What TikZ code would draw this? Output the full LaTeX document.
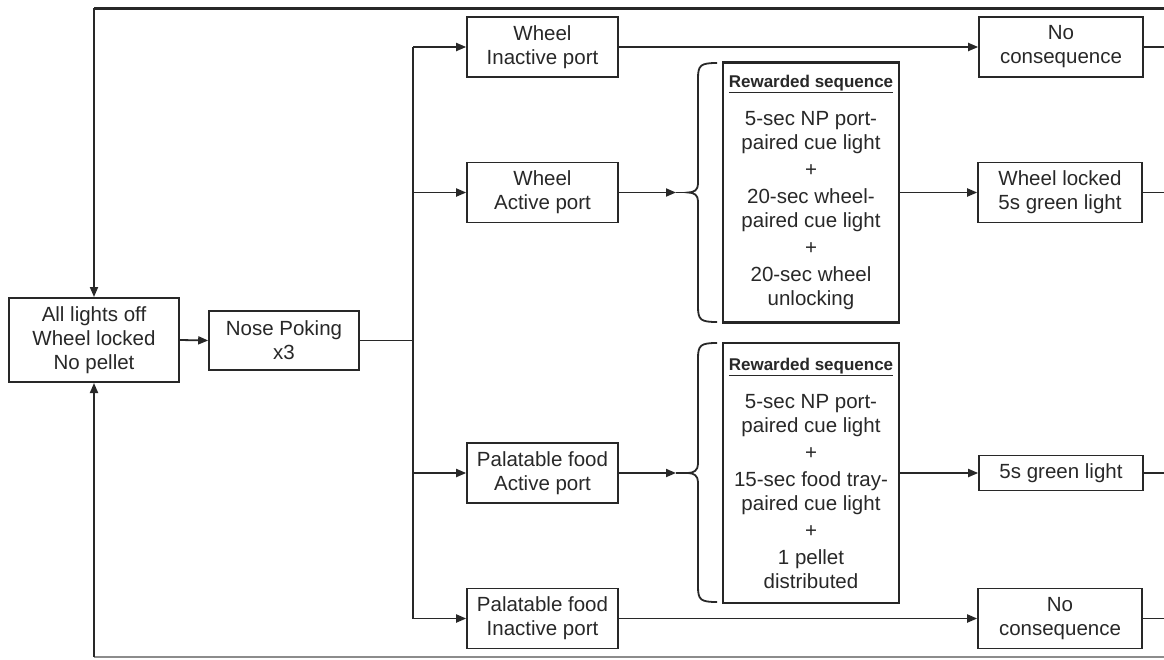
\documentclass[tikz,border=0pt]{standalone}
\usepackage{fontspec}
\setmainfont{Liberation Sans}
\usetikzlibrary{arrows.meta}
\definecolor{ink}{RGB}{40,40,40}
\begin{document}
\begin{tikzpicture}[x=1pt,y=-1pt,
  box/.style={draw=ink, line width=1.6pt, fill=white, text=ink, align=center,
    font=\fontsize{20.5}{24}\selectfont, inner sep=0pt},
  pbox/.style={box, minimum width=151pt, minimum height=60pt},
  rbox/.style={box, minimum width=164pt, minimum height=60pt},
  sbox/.style={box, line width=2.5pt, draw=black!85, minimum width=176pt, minimum height=260pt},
  conn/.style={draw=ink, line width=1.8pt},
  arr/.style={conn, -{Triangle[length=10pt,width=8pt]}}]
\useasboundingbox (0,0) rectangle (1164,659);

% nodes
\node[box, line width=2pt, minimum width=170pt, minimum height=84pt] (start) at (94,340) {All lights off\\Wheel locked\\No pellet};
\node[box, minimum width=150pt, minimum height=59pt] (nose) at (284,340.5) {Nose Poking\\x3};
\node[pbox] (wi) at (542.5,47) {Wheel\\Inactive port};
\node[pbox] (wa) at (542.5,192.5) {Wheel\\Active port};
\node[pbox] (pa) at (542.5,473) {Palatable food\\Active port};
\node[pbox] (pi) at (542.5,618.5) {Palatable food\\Inactive port};
\node[rbox] (nc1) at (1061,47) {No\\consequence};
\node[rbox] (wl) at (1060,192.5) {Wheel locked\\5s green light};
\node[rbox, minimum height=35pt] (gl) at (1061,473) {5s green light};
\node[rbox] (nc2) at (1060,618.5) {No\\consequence};
\node[sbox] (rs1) at (811,192.5) {{\fontsize{17}{20}\selectfont\bfseries\underline{Rewarded sequence}}\\[14pt]
5-sec NP port-\\paired cue light\\[3pt]+\\[3pt]20-sec wheel-\\paired cue light\\[3pt]+\\[3pt]20-sec wheel\\unlocking};
\node[sbox] (rs2) at (811,473) {{\fontsize{17}{20}\selectfont\bfseries\underline{Rewarded sequence}}\\[14pt]
5-sec NP port-\\paired cue light\\[3pt]+\\[3pt]15-sec food tray-\\paired cue light\\[3pt]+\\[3pt]1 pellet\\distributed};

% helper coordinates
\coordinate (br) at (413,340.5);
\coordinate (tl) at (94,8);
\coordinate (tr) at (1164,8);
\coordinate (bl) at (94,657);
\coordinate (bre) at (1164,657);
\coordinate (a1) at (676,192.5);
\coordinate (b1) at (688,192.5);
\coordinate (a2) at (676,473);
\coordinate (b2) at (688,473);

% loop lines
\draw[conn, line width=3pt] (tr) -- (tl);
\draw[arr] (tl) -- (start.north);
\draw[conn, draw=black!45, line width=1.4pt] (bre) -- (bl);
\draw[arr] (bl) -- (start.south);

% main flow
\draw[arr] (start.east) -- (nose.west);
\draw[conn] (nose.east) -- (br);
\draw[conn] (br |- wi.west) -- (br |- pi.west);
\draw[arr] (br |- wi.west) -- (wi.west);
\draw[arr] (br |- wa.west) -- (wa.west);
\draw[arr] (br |- pa.west) -- (pa.west);
\draw[arr] (br |- pi.west) -- (pi.west);

\draw[arr] (wi.east) -- (nc1.west);
\draw[arr] (pi.east) -- (nc2.west);
\draw[arr] (wa.east) -- (a1);
\draw[conn] (a1) -- (b1);
\draw[arr] (pa.east) -- (a2);
\draw[conn] (a2) -- (b2);
\draw[arr] (rs1.east) -- (wl.west);
\draw[arr] (rs2.east) -- (gl.west);

% braces
\draw[conn] (717,63) .. controls (701,63) and (698,65) .. (698,78) -- (698,184)
  .. controls (698,190) and (694,192.5) .. (b1)
  .. controls (694,192.5) and (698,195) .. (698,201) -- (698,307)
  .. controls (698,320) and (701,322) .. (717,322);
\draw[conn] (717,343) .. controls (701,343) and (698,345) .. (698,358) -- (698,464)
  .. controls (698,470) and (694,473) .. (b2)
  .. controls (694,473) and (698,476) .. (698,482) -- (698,587)
  .. controls (698,600) and (701,602) .. (717,602);

% right stubs
\draw[conn] (nc1.east) -- (nc1.east -| tr);
\draw[conn] (wl.east) -- (wl.east -| tr);
\draw[conn] (gl.east) -- (gl.east -| tr);
\draw[conn] (nc2.east) -- (nc2.east -| tr);
\end{tikzpicture}
\end{document}
